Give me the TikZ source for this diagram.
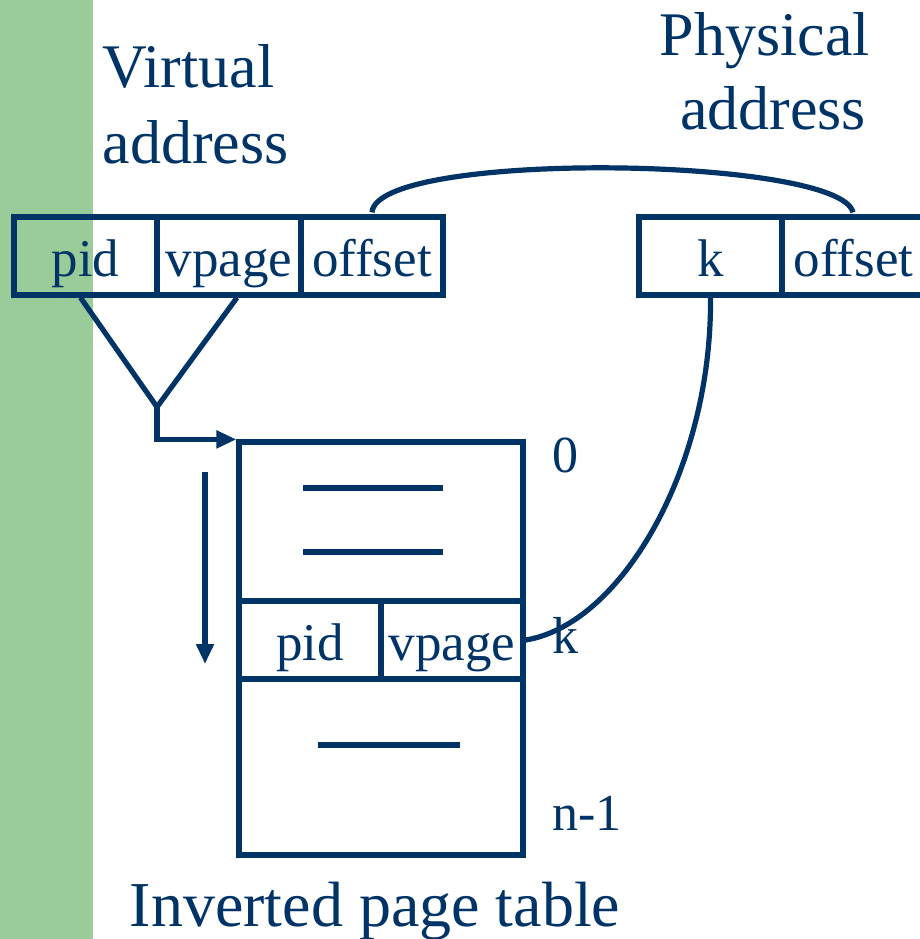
\documentclass[tikz,border=0pt]{standalone}
\usepackage{fontspec}
\setmainfont{Liberation Serif}
\newfontfamily\timesface{Liberation Serif}
\usetikzlibrary{arrows.meta,calc}
\definecolor{navy}{HTML}{003366}
\definecolor{strip}{HTML}{99CC99}
\begin{document}
\begin{tikzpicture}[x=1pt,y=-1pt,
  line width=5.2pt, draw=navy,
  cell/.style={draw=navy, line width=5.2pt, rectangle, inner sep=0pt, minimum height=78pt,
    text height=45pt, text depth=5pt,
    text=navy, font=\timesface\fontsize{53}{60}\selectfont, anchor=center},
  lbl/.style={text=navy, inner sep=0pt},
  big/.style={font=\timesface\fontsize{62}{70}\selectfont},
  mid/.style={font=\timesface\fontsize{52}{60}\selectfont},
  wire/.style={draw=navy, line width=5.2pt},
  tip/.style={-{Triangle[length=20pt,width=17pt]}}]
\useasboundingbox (0,0) rectangle (920,939);
\fill[strip] (0,0) rectangle (93,939);

% virtual address fields
\node[cell, minimum width=143pt] (vpid) at (85.5,256) {pid};
\node[cell, minimum width=144pt] (vvpage) at (229,256) {vpage};
\node[cell, minimum width=142pt] (voff) at (372,256) {offset};

% physical address fields (right field runs off the page)
\node[cell, minimum width=143pt] (pk) at (710.5,256) {k};
\node[cell, minimum width=143pt] (poff) at (853.5,256) {offset};

% titles
\node[lbl, big, anchor=base west] (vt1) at (100,88) {Virtual};
\node[lbl, big, anchor=base west] (vt2) at (100,163) {address};
\node[lbl, big, anchor=base] (pt1) at (765,56) {Physical};
\node[lbl, big, anchor=base] (pt2) at (773,130) {address};

% inverted page table
\node[draw=navy, line width=5.2pt, minimum width=284pt, minimum height=413pt, inner sep=0pt] (tab) at (381,648.5) {};
\node[cell, minimum width=142pt] (tpid) at (310,640) {pid};
\node[cell, minimum width=142pt] (tvpage) at (452,640) {vpage};
\draw[wire] (303,488) -- (443,488);
\draw[wire] (303,552) -- (443,552);
\draw[wire] (318,745) -- (460,745);

\node[lbl, mid, anchor=base west] (l0) at (550,472) {0};
\node[lbl, mid, anchor=base west] (lk) at (550,653) {k};
\node[lbl, mid, anchor=base west] (ln) at (550,830) {n-1};
\node[lbl, anchor=base, font=\timesface\fontsize{64}{70}\selectfont] (cap) at (375,926) {Inverted page table};

% hash of pid and vpage into the table
\coordinate (apex) at (157,407);
\draw[wire, line join=miter] ([xshift=-5pt]vpid.south) -- (apex) -- ([xshift=8pt]vvpage.south);
\draw[wire, tip] (apex) |- (tab.north west);
\coordinate (s0) at (205,472);
\coordinate (s1) at (205,664);
\draw[wire, tip] (s0) -- (s1);

% offset is copied; the matching index k becomes the frame number
\draw[wire] ($(voff.north)+(0,-2)$) .. controls (376,150) and (840,156) .. ($(poff.north)+(-0.5,-2)$);
\draw[wire] (tvpage.east) .. controls (620,625) and (712,470) .. (pk.south);
\end{tikzpicture}
\end{document}
